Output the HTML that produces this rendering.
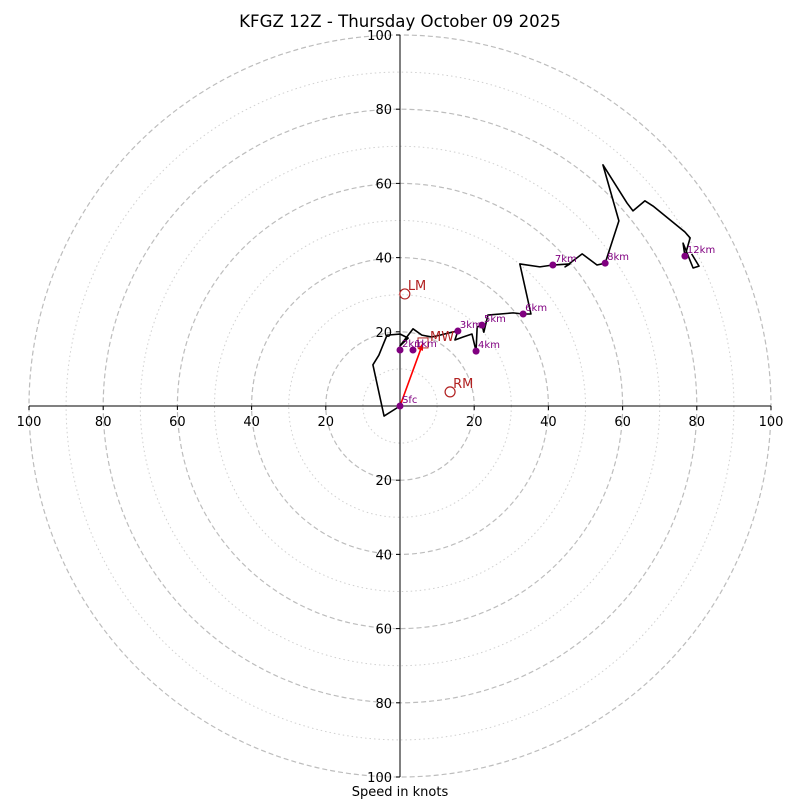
<!DOCTYPE html>
<html><head><meta charset="utf-8"><style>
body{margin:0;background:#fff}
svg{display:block;font-family:"DejaVu Sans","Liberation Sans",sans-serif}
</style></head><body>
<svg id="c" width="800" height="800">
<text x="400" y="27" text-anchor="middle" font-size="16.6">KFGZ 12Z - Thursday October 09 2025</text>
<text x="400" y="796" text-anchor="middle" font-size="13">Speed in knots</text>
<g id="g"></g>
</svg>
<script>
const traceU=[0,-4.3,-7.3,-5.7,-3.5,0,2.2,0,3.5,5.9,8.6,10.8,14.0,15.6,14.8,17.0,19.4,20.5,20.8,22.1,22.6,23.7,30.5,33.2,35.3,32.3,37.7,41.2,45.8,44.5,49.1,53.1,55.3,59.0,54.7,61.2,62.8,66.0,68.2,76.8,78.2,76.8,76.3,79.0,80.6,78.6];
const traceV=[0,-2.7,11.1,13.7,19.1,19.4,18.3,16.2,20.8,19.1,18.6,19.1,19.9,20.2,17.8,18.6,19.4,14.8,21.3,21.8,19.9,24.5,25.1,24.8,24.8,38.3,37.5,38.0,38.3,37.5,41.0,38.0,38.5,49.9,65.0,54.7,52.6,55.3,53.9,46.9,45.3,40.4,43.9,37.2,37.7,41.0];
const markerLabels=["Sfc","1km","2km","3km","4km","5km","6km","7km","8km","12km"];
const markerU=[0,3.5,0,15.6,20.5,22.1,33.2,41.2,55.3,76.8];
const markerV=[0,15.1,15.1,20.2,14.8,21.8,24.8,38.0,38.5,40.4];
const motionLabels=["LM","RM"];
const motionU=[1.3,13.5];
const motionV=[30.2,3.8];
const mwU=[6.2],mwV=[17.0];
const ringValues=[10,20,30,40,50,60,70,80,90,100];
const tickValues=[20,40,60,80,100];

const CX=400,CY=406,S=3.71;
const X=u=>CX+u*S, Y=v=>CY-v*S;
const g=document.getElementById('g'),NS='http://www.w3.org/2000/svg';
function mk(t,a,p){const e=document.createElementNS(NS,t);for(const k in a)e.setAttribute(k,a[k]);(p||g).appendChild(e);return e;}

ringValues.forEach(r=>{
  const e=mk('circle',{cx:CX,cy:CY,r:r*S,fill:'none',stroke:r%20?'#d0d0d0':'#bdbdbd','stroke-width':r%20?1:1.2,'stroke-dasharray':r%20?'1.5,3':'5,3'});
  
  
});
let ax=mk('line',{x1:X(-100),y1:CY,x2:X(100),y2:CY,stroke:'#000','stroke-width':1});


ax=mk('line',{x1:CX,y1:Y(100),x2:CX,y2:Y(-100),stroke:'#000','stroke-width':1});


tickValues.forEach(t=>{
  [-1,1].forEach(s=>{
    const xt=mk('text',{x:X(s*t),y:CY+20,'text-anchor':'middle','font-size':13});
    xt.textContent=t;
    
    
    mk('line',{x1:X(s*t),y1:CY,x2:X(s*t),y2:CY+4,stroke:'#000'});
    const yt=mk('text',{x:CX-8,y:Y(s*t)+5,'text-anchor':'end','font-size':13});
    yt.textContent=t;
    
    
    mk('line',{x1:CX,y1:Y(s*t),x2:CX-4,y2:Y(s*t),stroke:'#000'});
  });
});
const pts=traceU.map((u,i)=>X(u)+','+Y(traceV[i])).join(' ');
const tr=mk('polyline',{points:pts,fill:'none',stroke:'#000','stroke-width':1.6,'stroke-linejoin':'round'});


const ar=mk('line',{x1:X(0),y1:Y(0),x2:X(mwU[0]),y2:Y(mwV[0]),stroke:'red','stroke-width':1.6});


const ang=Math.atan2(Y(mwV[0])-Y(0),X(mwU[0])-X(0));
const hx=X(mwU[0]),hy=Y(mwV[0]);
mk('polygon',{points:`${hx},${hy} ${hx-8*Math.cos(ang-0.35)},${hy-8*Math.sin(ang-0.35)} ${hx-8*Math.cos(ang+0.35)},${hy-8*Math.sin(ang+0.35)}`,fill:'red'});
const sq=mk('rect',{x:hx-5,y:hy-5,width:10,height:10,fill:'none',stroke:'#b22222','stroke-width':1});


const mwt=mk('text',{x:hx+7,y:hy-2,fill:'#b22222','font-size':13});
mwt.textContent='MW';


markerU.forEach((u,i)=>{
  const c=mk('circle',{cx:X(u),cy:Y(markerV[i]),r:3.5,fill:'purple'});
  
  
  const t=mk('text',{x:X(u)+2,y:Y(markerV[i])-3,fill:'purple','font-size':10});
  t.textContent=markerLabels[i];
  
  
});
motionU.forEach((u,i)=>{
  const c=mk('circle',{cx:X(u),cy:Y(motionV[i]),r:5,fill:'none',stroke:'#b22222','stroke-width':1.2});
  
  
  const t=mk('text',{x:X(u)+3,y:Y(motionV[i])-4,fill:'#b22222','font-size':13});
  t.textContent=motionLabels[i];
  
  
});
</script>
</body></html>
